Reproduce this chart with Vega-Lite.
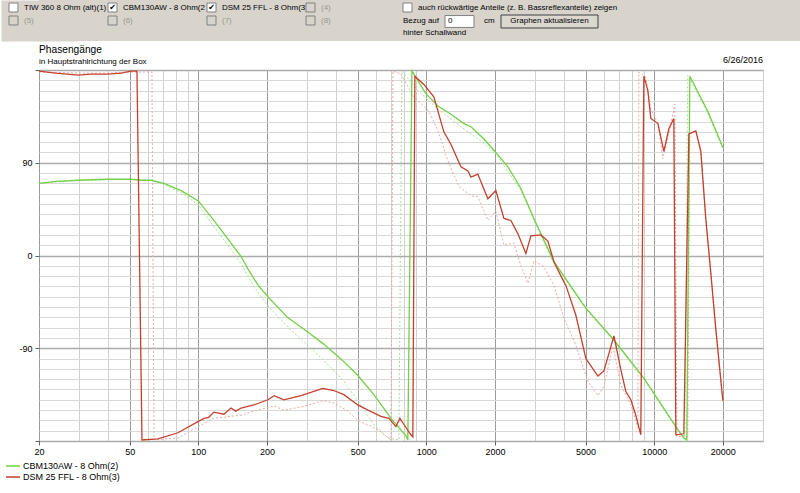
{
  "$schema": "https://vega.github.io/schema/vega-lite/v6.json",
  "padding": 0,
  "background": "white",
  "spacing": 3,
  "config": {"font": "Liberation Sans", "view": {"stroke": null}},
  "vconcat": [
    {
      "width": 762,
      "height": 41,
      "view": {"fill": "#d8d4cc", "stroke": null},
      "data": {"values": [
        {"col": 0, "row": 0, "label": "TIW 360 8 Ohm (alt)(1)", "state": "off"},
        {"col": 1, "row": 0, "label": "CBM130AW - 8 Ohm(2", "state": "on"},
        {"col": 2, "row": 0, "label": "DSM 25 FFL - 8 Ohm(3)", "state": "on"},
        {"col": 3, "row": 0, "label": "(4)", "state": "disabled"},
        {"col": 0, "row": 1, "label": "(5)", "state": "disabled"},
        {"col": 1, "row": 1, "label": "(6)", "state": "disabled"},
        {"col": 2, "row": 1, "label": "(7)", "state": "disabled"},
        {"col": 3, "row": 1, "label": "(8)", "state": "disabled"}
      ]},
      "encoding": {
        "x": {"field": "col", "type": "ordinal", "axis": null,
              "scale": {"type": "point", "domain": [0, 1, 2, 3, 4], "range": [-30, 366], "padding": 0}},
        "y": {"field": "row", "type": "ordinal",
              "scale": {"type": "point", "domain": [0, 1, 2], "range": [0, 41], "padding": 0.577},
              "axis": {"title": null, "labels": false, "ticks": false, "grid": false, "domain": true,
                       "domainColor": "#d8d4cc", "domainWidth": 76, "minExtent": 38, "maxExtent": 38}}
      },
      "layer": [
        {
          "mark": {"type": "text", "align": "left", "baseline": "middle", "dx": 15, "fontSize": 8},
          "encoding": {
            "text": {"field": "label"},
            "color": {"condition": {"test": "datum.state == 'disabled'", "value": "#9a968e"}, "value": "black"}
          }
        },
        {
          "mark": {"type": "point", "shape": "square", "size": 81, "xOffset": 4.5, "stroke": "#808080", "strokeWidth": 1, "opacity": 1},
          "encoding": {
            "fill": {"condition": {"test": "datum.state == 'disabled'", "value": "#d8d4cc"}, "value": "white"}
          }
        },
        {
          "transform": [{"filter": "datum.state == 'on'"}],
          "mark": {"type": "text", "text": "✔", "font": "DejaVu Sans", "fontSize": 8, "align": "center", "baseline": "middle", "dx": 4.5, "color": "black"}
        },
        {
          "data": {"values": [{"col": 4, "row": 0}]},
          "mark": {"type": "point", "shape": "square", "size": 81, "xOffset": 2.5, "stroke": "#808080", "strokeWidth": 1, "fill": "white", "opacity": 1}
        },
        {
          "data": {"values": [{"col": 4, "row": 0, "label": "auch rückwärtige Anteile (z. B. Bassreflexanteile) zeigen"}]},
          "mark": {"type": "text", "align": "left", "baseline": "middle", "dx": 13, "fontSize": 8, "color": "black"},
          "encoding": {"text": {"field": "label"}}
        },
        {
          "data": {"values": [
            {"col": 4, "row": 1, "label": "Bezug auf"},
            {"col": 4, "row": 2, "label": "hinter Schallwand"}
          ]},
          "mark": {"type": "text", "align": "left", "baseline": "middle", "dx": -2, "fontSize": 8, "color": "black"},
          "encoding": {"text": {"field": "label"}}
        },
        {
          "data": {"values": [{"col": 4, "row": 1}]},
          "mark": {"type": "point", "shape": "M-1,-0.41H1V0.41H-1Z", "size": 841, "xOffset": 54.5, "yOffset": 1, "stroke": "#808080", "strokeWidth": 1, "fill": "white", "opacity": 1}
        },
        {
          "data": {"values": [{"col": 4, "row": 1, "label": "0"}]},
          "mark": {"type": "text", "align": "left", "baseline": "middle", "dx": 43, "dy": 0, "fontSize": 8, "color": "black"},
          "encoding": {"text": {"field": "label"}}
        },
        {
          "data": {"values": [{"col": 4, "row": 1, "label": "cm"}]},
          "mark": {"type": "text", "align": "left", "baseline": "middle", "dx": 79, "fontSize": 8, "color": "black"},
          "encoding": {"text": {"field": "label"}}
        },
        {
          "data": {"values": [{"col": 4, "row": 1}]},
          "mark": {"type": "point", "shape": "M-1,-0.134H1V0.134H-1Z", "size": 9409, "xOffset": 144.5, "yOffset": 1, "stroke": "#404040", "strokeWidth": 1, "fill": "#dcd8d0", "opacity": 1}
        },
        {
          "data": {"values": [{"col": 4, "row": 1, "label": "Graphen aktualisieren"}]},
          "mark": {"type": "text", "align": "center", "baseline": "middle", "dx": 144.5, "dy": 0, "fontSize": 8, "color": "black"},
          "encoding": {"text": {"field": "label"}}
        }
      ]
    },
    {
      "width": 724,
      "height": 371,
      "title": {
        "text": "Phasengänge",
        "subtitle": "in Hauptstrahlrichtung der Box",
        "anchor": "start",
        "frame": "group",
        "fontSize": 10.2,
        "fontWeight": "normal",
        "color": "black",
        "subtitleFontSize": 8,
        "subtitleColor": "black",
        "subtitlePadding": 3,
        "offset": -10
      },
      "view": {"stroke": "#9a9a9a"},
      "data": {"values": [
        {"s": "G", "k": "m", "f": 20, "p": 70}, {"s": "G", "k": "m", "f": 23.7, "p": 72}, {"s": "G", "k": "m", "f": 29.7, "p": 73},
        {"s": "G", "k": "m", "f": 40, "p": 74}, {"s": "G", "k": "m", "f": 50.6, "p": 74}, {"s": "G", "k": "m", "f": 56, "p": 73},
        {"s": "G", "k": "m", "f": 62, "p": 73}, {"s": "G", "k": "m", "f": 70.7, "p": 70}, {"s": "G", "k": "m", "f": 84, "p": 63},
        {"s": "G", "k": "m", "f": 100, "p": 53}, {"s": "G", "k": "m", "f": 117, "p": 34}, {"s": "G", "k": "m", "f": 136, "p": 15},
        {"s": "G", "k": "m", "f": 154, "p": -1}, {"s": "G", "k": "m", "f": 165, "p": -13}, {"s": "G", "k": "m", "f": 183, "p": -29},
        {"s": "G", "k": "m", "f": 202, "p": -40}, {"s": "G", "k": "m", "f": 246, "p": -60}, {"s": "G", "k": "m", "f": 301, "p": -74},
        {"s": "G", "k": "m", "f": 355, "p": -86}, {"s": "G", "k": "m", "f": 435, "p": -103}, {"s": "G", "k": "m", "f": 499, "p": -116},
        {"s": "G", "k": "m", "f": 589, "p": -135}, {"s": "G", "k": "m", "f": 700, "p": -158}, {"s": "G", "k": "m", "f": 815, "p": -175},
        {"s": "G", "k": "m", "f": 830, "p": -179}, {"s": "G", "k": "m", "f": 865, "p": 179}, {"s": "G", "k": "m", "f": 995, "p": 157},
        {"s": "G", "k": "m", "f": 1125, "p": 145}, {"s": "G", "k": "m", "f": 1282, "p": 137}, {"s": "G", "k": "m", "f": 1462, "p": 128},
        {"s": "G", "k": "m", "f": 1571, "p": 125}, {"s": "G", "k": "m", "f": 1790, "p": 113}, {"s": "G", "k": "m", "f": 2019, "p": 100},
        {"s": "G", "k": "m", "f": 2281, "p": 86}, {"s": "G", "k": "m", "f": 2601, "p": 65}, {"s": "G", "k": "m", "f": 2966, "p": 36},
        {"s": "G", "k": "m", "f": 3630, "p": -6}, {"s": "G", "k": "m", "f": 5013, "p": -51}, {"s": "G", "k": "m", "f": 6655, "p": -82},
        {"s": "G", "k": "m", "f": 9003, "p": -119}, {"s": "G", "k": "m", "f": 12700, "p": -169}, {"s": "G", "k": "m", "f": 13486, "p": -177},
        {"s": "G", "k": "m", "f": 13900, "p": -179}, {"s": "G", "k": "m", "f": 14327, "p": 174}, {"s": "G", "k": "m", "f": 17180, "p": 140},
        {"s": "G", "k": "m", "f": 20000, "p": 105},

        {"s": "G", "k": "d", "f": 20, "p": 70}, {"s": "G", "k": "d", "f": 29.7, "p": 73}, {"s": "G", "k": "d", "f": 50.6, "p": 74},
        {"s": "G", "k": "d", "f": 62, "p": 73}, {"s": "G", "k": "d", "f": 70.7, "p": 69}, {"s": "G", "k": "d", "f": 84, "p": 61},
        {"s": "G", "k": "d", "f": 100, "p": 49}, {"s": "G", "k": "d", "f": 117, "p": 28}, {"s": "G", "k": "d", "f": 139, "p": 6},
        {"s": "G", "k": "d", "f": 154, "p": -8}, {"s": "G", "k": "d", "f": 175, "p": -30}, {"s": "G", "k": "d", "f": 202, "p": -49},
        {"s": "G", "k": "d", "f": 254, "p": -72},
        {"s": "G", "k": "d", "f": 356, "p": -102}, {"s": "G", "k": "d", "f": 435, "p": -122}, {"s": "G", "k": "d", "f": 501, "p": -141},
        {"s": "G", "k": "d", "f": 589, "p": -164}, {"s": "G", "k": "d", "f": 679, "p": -177}, {"s": "G", "k": "d", "f": 758, "p": -179},
        {"s": "G", "k": "d", "f": 782, "p": 179}, {"s": "G", "k": "d", "f": 919, "p": 160}, {"s": "G", "k": "d", "f": 1125, "p": 142},
        {"s": "G", "k": "d", "f": 1419, "p": 125}, {"s": "G", "k": "d", "f": 1737, "p": 111}, {"s": "G", "k": "d", "f": 2019, "p": 99},
        {"s": "G", "k": "d", "f": 2601, "p": 63}, {"s": "G", "k": "d", "f": 2966, "p": 34}, {"s": "G", "k": "d", "f": 3630, "p": -8},
        {"s": "G", "k": "d", "f": 5013, "p": -52}, {"s": "G", "k": "d", "f": 6655, "p": -83}, {"s": "G", "k": "d", "f": 9003, "p": -120},
        {"s": "G", "k": "d", "f": 12700, "p": -170}, {"s": "G", "k": "d", "f": 13620, "p": -178}, {"s": "G", "k": "d", "f": 14030, "p": 175},
        {"s": "G", "k": "d", "f": 17180, "p": 138}, {"s": "G", "k": "d", "f": 20000, "p": 103},

        {"s": "R", "k": "m", "f": 20, "p": 179}, {"s": "R", "k": "m", "f": 23.7, "p": 177}, {"s": "R", "k": "m", "f": 29.7, "p": 175},
        {"s": "R", "k": "m", "f": 33.8, "p": 176}, {"s": "R", "k": "m", "f": 40, "p": 176}, {"s": "R", "k": "m", "f": 45.8, "p": 177},
        {"s": "R", "k": "m", "f": 50.6, "p": 179}, {"s": "R", "k": "m", "f": 53.8, "p": 179}, {"s": "R", "k": "m", "f": 56.6, "p": -179},
        {"s": "R", "k": "m", "f": 66.5, "p": -178}, {"s": "R", "k": "m", "f": 81.4, "p": -172}, {"s": "R", "k": "m", "f": 100, "p": -161},
        {"s": "R", "k": "m", "f": 106, "p": -158}, {"s": "R", "k": "m", "f": 111, "p": -157}, {"s": "R", "k": "m", "f": 117, "p": -152},
        {"s": "R", "k": "m", "f": 129.5, "p": -154}, {"s": "R", "k": "m", "f": 139, "p": -148}, {"s": "R", "k": "m", "f": 146, "p": -151},
        {"s": "R", "k": "m", "f": 154, "p": -148}, {"s": "R", "k": "m", "f": 175, "p": -145}, {"s": "R", "k": "m", "f": 202, "p": -140},
        {"s": "R", "k": "m", "f": 215, "p": -136}, {"s": "R", "k": "m", "f": 237, "p": -140}, {"s": "R", "k": "m", "f": 282, "p": -136},
        {"s": "R", "k": "m", "f": 352, "p": -129}, {"s": "R", "k": "m", "f": 393, "p": -131}, {"s": "R", "k": "m", "f": 435, "p": -135},
        {"s": "R", "k": "m", "f": 501, "p": -145}, {"s": "R", "k": "m", "f": 555, "p": -150}, {"s": "R", "k": "m", "f": 632, "p": -156},
        {"s": "R", "k": "m", "f": 686, "p": -158}, {"s": "R", "k": "m", "f": 736, "p": -166}, {"s": "R", "k": "m", "f": 766, "p": -158},
        {"s": "R", "k": "m", "f": 798, "p": -164}, {"s": "R", "k": "m", "f": 856, "p": -174}, {"s": "R", "k": "m", "f": 873, "p": -176},
        {"s": "R", "k": "m", "f": 891, "p": 174}, {"s": "R", "k": "m", "f": 976, "p": 166}, {"s": "R", "k": "m", "f": 1079, "p": 154},
        {"s": "R", "k": "m", "f": 1194, "p": 120}, {"s": "R", "k": "m", "f": 1282, "p": 108}, {"s": "R", "k": "m", "f": 1419, "p": 86},
        {"s": "R", "k": "m", "f": 1524, "p": 82}, {"s": "R", "k": "m", "f": 1571, "p": 76}, {"s": "R", "k": "m", "f": 1683, "p": 79},
        {"s": "R", "k": "m", "f": 1863, "p": 55}, {"s": "R", "k": "m", "f": 2019, "p": 63}, {"s": "R", "k": "m", "f": 2191, "p": 36},
        {"s": "R", "k": "m", "f": 2350, "p": 34}, {"s": "R", "k": "m", "f": 2524, "p": 21}, {"s": "R", "k": "m", "f": 2735, "p": 2},
        {"s": "R", "k": "m", "f": 2877, "p": 19}, {"s": "R", "k": "m", "f": 3183, "p": 20}, {"s": "R", "k": "m", "f": 3415, "p": 14},
        {"s": "R", "k": "m", "f": 3630, "p": -6}, {"s": "R", "k": "m", "f": 3896, "p": -20}, {"s": "R", "k": "m", "f": 4096, "p": -29},
        {"s": "R", "k": "m", "f": 4531, "p": -58}, {"s": "R", "k": "m", "f": 5013, "p": -100}, {"s": "R", "k": "m", "f": 5661, "p": -117},
        {"s": "R", "k": "m", "f": 6015, "p": -112}, {"s": "R", "k": "m", "f": 6655, "p": -78}, {"s": "R", "k": "m", "f": 7140, "p": -111},
        {"s": "R", "k": "m", "f": 7508, "p": -132}, {"s": "R", "k": "m", "f": 7897, "p": -140}, {"s": "R", "k": "m", "f": 8300, "p": -155},
        {"s": "R", "k": "m", "f": 8730, "p": -174}, {"s": "R", "k": "m", "f": 9003, "p": 174}, {"s": "R", "k": "m", "f": 9375, "p": 160},
        {"s": "R", "k": "m", "f": 9662, "p": 133}, {"s": "R", "k": "m", "f": 10379, "p": 128}, {"s": "R", "k": "m", "f": 11020, "p": 101},
        {"s": "R", "k": "m", "f": 11591, "p": 123}, {"s": "R", "k": "m", "f": 12190, "p": 133}, {"s": "R", "k": "m", "f": 12437, "p": -174},
        {"s": "R", "k": "m", "f": 13486, "p": -173}, {"s": "R", "k": "m", "f": 14190, "p": 118}, {"s": "R", "k": "m", "f": 15225, "p": 121},
        {"s": "R", "k": "m", "f": 16013, "p": 101}, {"s": "R", "k": "m", "f": 16828, "p": 36}, {"s": "R", "k": "m", "f": 17710, "p": -17},
        {"s": "R", "k": "m", "f": 18620, "p": -71}, {"s": "R", "k": "m", "f": 20000, "p": -141},

        {"s": "R", "k": "d", "f": 20, "p": 178}, {"s": "R", "k": "d", "f": 29.7, "p": 177}, {"s": "R", "k": "d", "f": 40, "p": 177},
        {"s": "R", "k": "d", "f": 50.6, "p": 178}, {"s": "R", "k": "d", "f": 62.6, "p": 178}, {"s": "R", "k": "d", "f": 63.9, "p": -179},
        {"s": "R", "k": "d", "f": 81.4, "p": -177}, {"s": "R", "k": "d", "f": 100, "p": -166}, {"s": "R", "k": "d", "f": 117, "p": -158},
        {"s": "R", "k": "d", "f": 139, "p": -156}, {"s": "R", "k": "d", "f": 154, "p": -155}, {"s": "R", "k": "d", "f": 175, "p": -151},
        {"s": "R", "k": "d", "f": 215, "p": -146}, {"s": "R", "k": "d", "f": 237, "p": -150}, {"s": "R", "k": "d", "f": 282, "p": -147},
        {"s": "R", "k": "d", "f": 352, "p": -141}, {"s": "R", "k": "d", "f": 393, "p": -143}, {"s": "R", "k": "d", "f": 453, "p": -151},
        {"s": "R", "k": "d", "f": 501, "p": -160}, {"s": "R", "k": "d", "f": 614, "p": -169}, {"s": "R", "k": "d", "f": 700, "p": -179},
        {"s": "R", "k": "d", "f": 714, "p": 179}, {"s": "R", "k": "d", "f": 774, "p": 176}, {"s": "R", "k": "d", "f": 882, "p": 154},
        {"s": "R", "k": "d", "f": 1027, "p": 140}, {"s": "R", "k": "d", "f": 1125, "p": 121}, {"s": "R", "k": "d", "f": 1244, "p": 92},
        {"s": "R", "k": "d", "f": 1390, "p": 67}, {"s": "R", "k": "d", "f": 1571, "p": 58}, {"s": "R", "k": "d", "f": 1683, "p": 57},
        {"s": "R", "k": "d", "f": 1863, "p": 34}, {"s": "R", "k": "d", "f": 2019, "p": 43}, {"s": "R", "k": "d", "f": 2191, "p": 10},
        {"s": "R", "k": "d", "f": 2421, "p": 12}, {"s": "R", "k": "d", "f": 2601, "p": -10}, {"s": "R", "k": "d", "f": 2791, "p": -27},
        {"s": "R", "k": "d", "f": 2966, "p": -5}, {"s": "R", "k": "d", "f": 3280, "p": -11}, {"s": "R", "k": "d", "f": 3630, "p": -29},
        {"s": "R", "k": "d", "f": 4016, "p": -61}, {"s": "R", "k": "d", "f": 4531, "p": -87}, {"s": "R", "k": "d", "f": 5116, "p": -122},
        {"s": "R", "k": "d", "f": 5661, "p": -136}, {"s": "R", "k": "d", "f": 6015, "p": -127}, {"s": "R", "k": "d", "f": 6584, "p": -88},
        {"s": "R", "k": "d", "f": 7140, "p": -126}, {"s": "R", "k": "d", "f": 7897, "p": -145}, {"s": "R", "k": "d", "f": 8478, "p": -167},
        {"s": "R", "k": "d", "f": 8564, "p": 178}, {"s": "R", "k": "d", "f": 9190, "p": 173}, {"s": "R", "k": "d", "f": 9662, "p": 142},
        {"s": "R", "k": "d", "f": 10379, "p": 128}, {"s": "R", "k": "d", "f": 10910, "p": 94}, {"s": "R", "k": "d", "f": 11591, "p": 118},
        {"s": "R", "k": "d", "f": 12320, "p": 147}, {"s": "R", "k": "d", "f": 12570, "p": -176}, {"s": "R", "k": "d", "f": 13486, "p": -175},
        {"s": "R", "k": "d", "f": 14030, "p": -176}, {"s": "R", "k": "d", "f": 14327, "p": 118}, {"s": "R", "k": "d", "f": 15225, "p": 120},
        {"s": "R", "k": "d", "f": 16013, "p": 100}, {"s": "R", "k": "d", "f": 16828, "p": 35}, {"s": "R", "k": "d", "f": 17710, "p": -18},
        {"s": "R", "k": "d", "f": 18620, "p": -72}, {"s": "R", "k": "d", "f": 20000, "p": -142}
      ]},
      "encoding": {
        "x": {
          "field": "f",
          "type": "quantitative",
          "scale": {"type": "log", "domain": [20, 30000], "nice": false},
          "axis": {
            "title": null,
            "values": [20, 30, 40, 50, 60, 70, 80, 90, 100, 200, 300, 400, 500, 600, 700, 800, 900, 1000, 2000, 3000, 4000, 5000, 6000, 7000, 8000, 9000, 10000, 20000, 30000],
            "labelExpr": "indexof([20, 50, 100, 200, 500, 1000, 2000, 5000, 10000, 20000], datum.value) >= 0 ? '' + datum.value : ''",
            "labelFlush": false,
            "labelOverlap": false,
            "labelFontSize": 9,
            "labelColor": "black",
            "labelPadding": 2,
            "domain": false,
            "tickSize": 4,
            "tickColor": {"condition": {"test": "indexof([20, 50, 100, 200, 500, 1000, 2000, 5000, 10000, 20000], datum.value) >= 0", "value": "#606060"}, "value": "transparent"},
            "gridColor": {"condition": {"test": "indexof([20, 50, 100, 200, 500, 1000, 2000, 5000, 10000, 20000], datum.value) >= 0", "value": "#9a9a9a"}, "value": "#d0d0d0"},
            "gridOpacity": 1
          }
        },
        "y": {
          "field": "p",
          "type": "quantitative",
          "scale": {"domain": [-180, 180], "nice": false, "zero": false},
          "axis": {
            "title": null,
            "values": [-180, -170, -160, -150, -140, -130, -120, -110, -100, -90, -80, -70, -60, -50, -40, -30, -20, -10, 0, 10, 20, 30, 40, 50, 60, 70, 80, 90, 100, 110, 120, 130, 140, 150, 160, 170, 180],
            "labelExpr": "datum.value == 90 || datum.value == 0 || datum.value == -90 ? '' + datum.value : ''",
            "labelOverlap": false,
            "labelFlush": false,
            "labelFontSize": 9,
            "labelColor": "black",
            "labelPadding": 3,
            "domain": false,
            "tickSize": 4,
            "minExtent": 38,
            "tickColor": {"condition": {"test": "datum.value % 90 == 0", "value": "#606060"}, "value": "transparent"},
            "gridColor": {"condition": {"test": "datum.value % 90 == 0", "value": "#ababab"}, "value": "#d8d8d8"},
            "gridWidth": {"condition": {"test": "datum.value % 90 == 0", "value": 1.6}, "value": 1},
            "gridOpacity": 1
          }
        }
      },
      "layer": [
        {
          "transform": [{"filter": "datum.k == 'd'"}],
          "mark": {"type": "line", "strokeWidth": 1, "strokeDash": [2, 2]},
          "encoding": {
            "color": {"field": "s", "type": "nominal", "legend": null,
                      "scale": {"domain": ["G", "R"], "range": ["#a8e098", "#e8aaa4"]}}
          }
        },
        {
          "transform": [{"filter": "datum.k == 'm'"}],
          "mark": {"type": "line", "strokeWidth": 1.3},
          "encoding": {
            "color": {
              "field": "s",
              "type": "nominal",
              "scale": {"domain": ["G", "R"], "range": ["#74d046", "#c4402c"]},
              "legend": {
                "title": null,
                "orient": "none",
                "legendX": -32,
                "legendY": 390,
                "symbolType": "M-1.4,0H1.4",
                "symbolSize": 100,
                "symbolStrokeWidth": 1.5,
                "labelFontSize": 9,
                "labelColor": "black",
                "labelOffset": 4,
                "rowPadding": 0,
                "labelExpr": "datum.label == 'G' ? 'CBM130AW - 8 Ohm(2)' : 'DSM 25 FFL - 8 Ohm(3)'"
              }
            }
          }
        },
        {
          "data": {"values": [{"f": 30000, "p": 180, "label": "6/26/2016"}]},
          "mark": {"type": "text", "align": "right", "baseline": "alphabetic", "dy": -7, "fontSize": 9, "color": "black"},
          "encoding": {"text": {"field": "label"}}
        }
      ],
      "resolve": {"scale": {"color": "independent"}, "legend": {"color": "independent"}}
    }
  ]
}
